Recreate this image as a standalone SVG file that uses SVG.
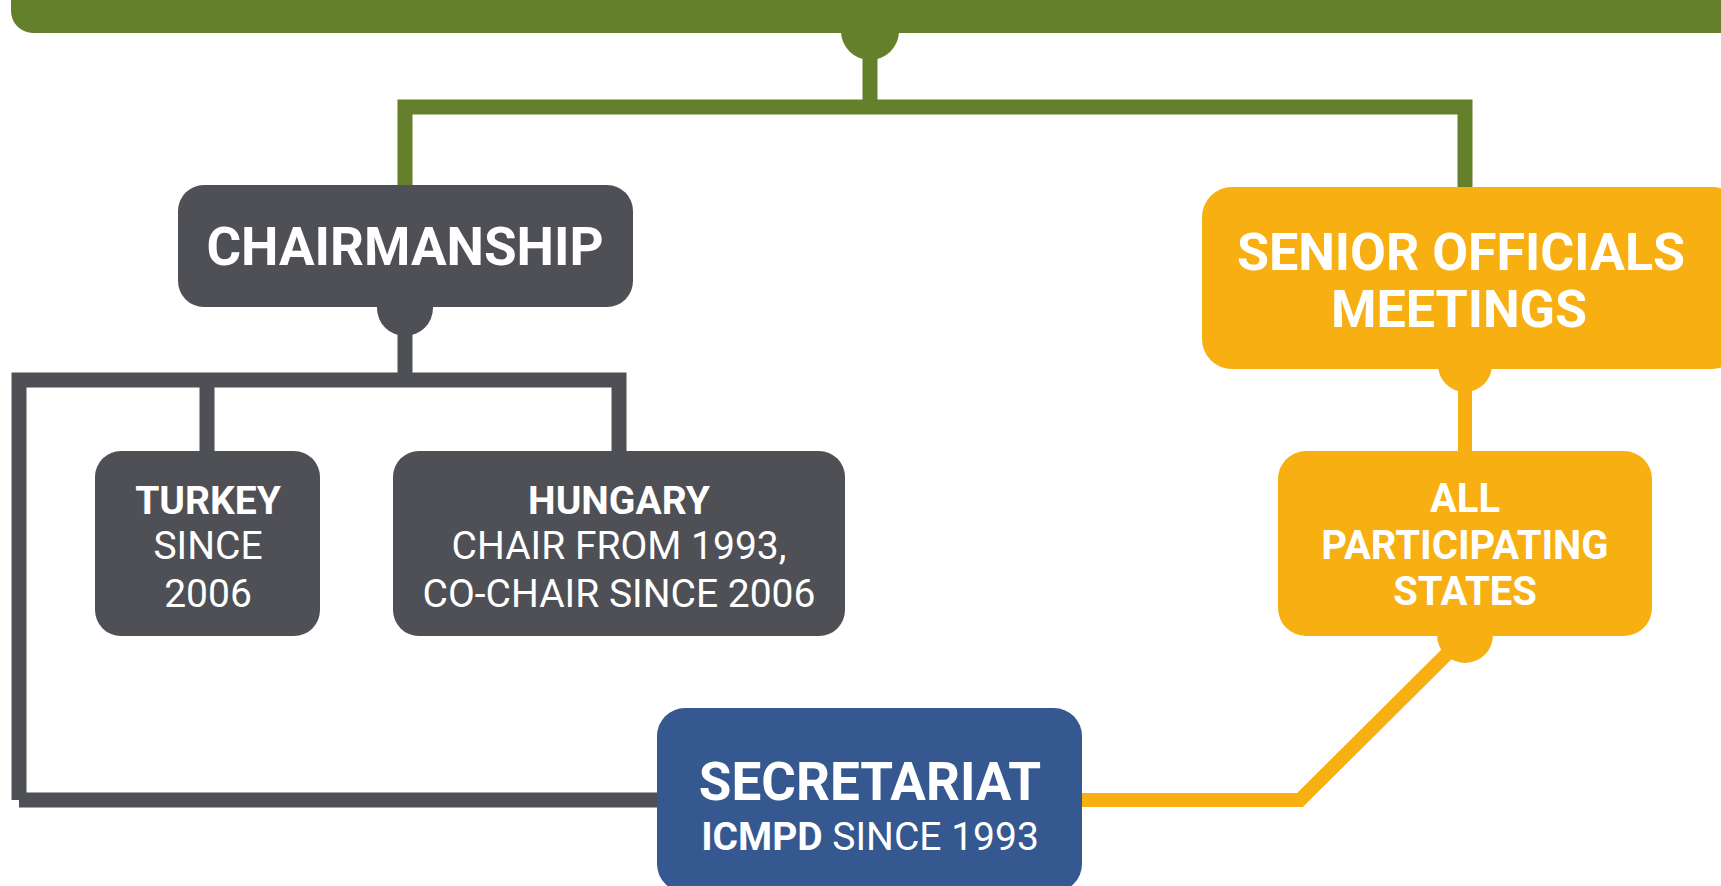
<svg xmlns="http://www.w3.org/2000/svg" width="1721" height="886" viewBox="0 0 1721 886">
<style>
.green{fill:#65802b}
.gray{fill:#4f5055}
.yellow{fill:#f7af12}
.blue{fill:#355891}
.t{font-family:Roboto,"Liberation Sans",sans-serif;fill:#ffffff;text-anchor:middle}
.b{font-weight:bold}
.r{font-weight:normal}
.ln{fill:none;stroke-linejoin:miter;stroke-linecap:butt}
</style>
<rect width="1721" height="886" fill="#ffffff"/>
<g id="connectors">
  <path class="ln" d="M870,40 V107 M405,185 V107 H1465 V190" stroke="#65802b" stroke-width="15"/>
  <path class="ln" d="M405,320 V380 M19,800 V380 H619 V455 M207,380 V455 M19,800 H670" stroke="#4f5055" stroke-width="15"/>
  <path class="ln" d="M1465,380 V455 M1465,636 L1300,800 H1070" stroke="#f7af12" stroke-width="14"/>
</g>
<g id="top-bar">
  <rect class="green" x="11" y="-50" width="1730" height="83" rx="22"/>
  <circle class="green" cx="870" cy="31" r="29"/>
</g>
<g id="chairmanship">
  <rect class="gray" x="178" y="185" width="455" height="122" rx="26"/>
  <circle class="gray" cx="405" cy="308" r="28"/>
  <text class="t b" x="405" y="265" font-size="53">CHAIRMANSHIP</text>
</g>
<g id="senior-officials">
  <rect class="yellow" x="1202" y="187" width="540" height="182" rx="30"/>
  <circle class="yellow" cx="1465" cy="365" r="27"/>
  <text class="t b" x="1461" y="270" font-size="52">SENIOR OFFICIALS</text>
  <text class="t b" x="1459" y="327" font-size="52">MEETINGS</text>
</g>
<g id="turkey">
  <rect class="gray" x="95" y="451" width="225" height="185" rx="26"/>
  <text class="t b" x="208" y="514" font-size="39">TURKEY</text>
  <text class="t r" x="208" y="559" font-size="39">SINCE</text>
  <text class="t r" x="208" y="607" font-size="39">2006</text>
</g>
<g id="hungary">
  <rect class="gray" x="393" y="451" width="452" height="185" rx="26"/>
  <text class="t b" x="619" y="514" font-size="39">HUNGARY</text>
  <text class="t r" x="619" y="559" font-size="39">CHAIR FROM 1993,</text>
  <text class="t r" x="619" y="607" font-size="39">CO-CHAIR SINCE 2006</text>
</g>
<g id="all-participating-states">
  <rect class="yellow" x="1278" y="451" width="374" height="185" rx="28"/>
  <circle class="yellow" cx="1465" cy="635" r="28"/>
  <text class="t b" x="1465" y="512" font-size="40">ALL</text>
  <text class="t b" x="1465" y="559" font-size="40">PARTICIPATING</text>
  <text class="t b" x="1465" y="605" font-size="40">STATES</text>
</g>
<g id="secretariat">
  <rect class="blue" x="657" y="708" width="425" height="184" rx="28"/>
  <text class="t b" x="870" y="800" font-size="53">SECRETARIAT</text>
  <text class="t" x="870" y="850" font-size="39"><tspan class="b">ICMPD</tspan><tspan class="r"> SINCE 1993</tspan></text>
</g>
</svg>
